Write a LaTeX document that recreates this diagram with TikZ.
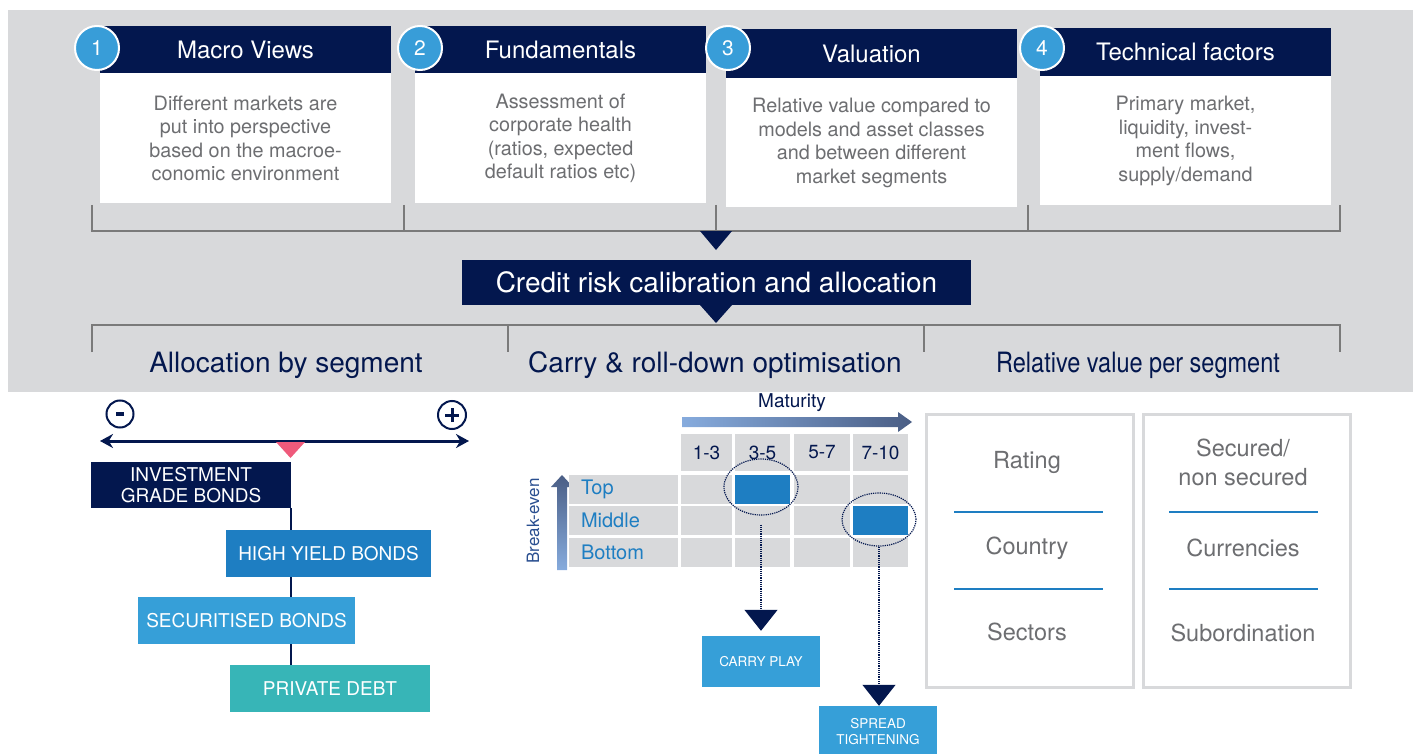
\documentclass[tikz,border=0pt]{standalone}
\usepackage{fontspec}
\setmainfont{TeX Gyre Heros}
\usetikzlibrary{arrows.meta,shapes.geometric,backgrounds}

\definecolor{navy}{HTML}{03174E}
\definecolor{panel}{HTML}{D8D9DB}
\definecolor{numblue}{HTML}{389DD8}
\definecolor{hyblue}{HTML}{1E7EC2}
\definecolor{secblue}{HTML}{369FD8}
\definecolor{teal}{HTML}{37B5B7}
\definecolor{txtgrey}{HTML}{6D6E71}
\definecolor{rulegrey}{HTML}{7A7A7A}
\definecolor{pink}{HTML}{EF5A7B}
\definecolor{lightarr}{HTML}{86ABDD}
\definecolor{darkarr}{HTML}{4A5E85}
\definecolor{beblue}{HTML}{2A4F90}

\tikzset{
  head/.style={fill=navy,text=white,minimum width=291,minimum height=47,inner sep=0,
    font=\fontsize{24}{28}\selectfont},
  body/.style={fill=white,text=txtgrey,minimum width=291,minimum height=130,inner sep=0,
    align=center,font=\fontsize{19.8}{23.5}\selectfont},
  num/.style={circle,fill=numblue,draw=white,line width=2,text=white,minimum size=44,
    inner sep=0,font=\fontsize{21}{21}\selectfont},
  seg/.style={text=navy,inner sep=0,font=\fontsize{28}{30}\selectfont},
  bond/.style={text=white,minimum height=47,inner sep=0,align=center,
    font=\fontsize{19}{21.5}\selectfont},
  cell/.style={fill=panel,minimum height=29,inner sep=0},
  tag/.style={fill=secblue,text=white,minimum width=118,minimum height=51,inner sep=0,
    align=center,font=\fontsize{13.5}{16}\selectfont},
  facet/.style={text=txtgrey,align=center,inner sep=0,font=\fontsize{23.5}{28.5}\selectfont},
  rvbox/.style={draw=panel,line width=3,fill=white,minimum width=207,minimum height=273,inner sep=0},
  ring/.style={ellipse,draw=navy,densely dotted,line width=1.2,inner sep=0},
  drop/.style={draw=navy,densely dotted,line width=1.2,-{Triangle[width=33pt,length=21pt]}}
}

\begin{document}
\begin{tikzpicture}[x=1pt,y=-1pt]
\useasboundingbox (0,0) rectangle (1413,754);
\clip (0,0) rectangle (1413,754);

% Grey panel
\fill[panel] (8,10) rectangle (1413,392);

% Step 1
\node[head] (h1) at (245.5,49.5) {Macro Views};
\node[body,anchor=north] (b1) at (h1.south) {Different markets are\\put into perspective\\based on the macroe-\\conomic environment};
\node[num] (n1) at (97,48) {1};

% Step 2
\node[head] (h2) at (560.5,49.5) {Fundamentals};
\node[body,anchor=north] (b2) at (h2.south) {Assessment of\\corporate health\\(ratios, expected\\default ratios etc)};
\node[num] (n2) at (420,48) {2};

% Step 3
\node[head,minimum height=49] (h3) at (871.5,53.5) {Valuation};
\node[body,anchor=north,minimum height=129] (b3) at (h3.south) {Relative value compared to\\models and asset classes\\and between different\\market segments};
\node[num] (n3) at (728,48) {3};

% Step 4
\node[head,minimum height=48] (h4) at (1185.5,52) {Technical factors};
\node[body,anchor=north,minimum height=129] (b4) at (h4.south) {Primary market,\\liquidity, invest-\\ment flows,\\supply/demand};
\node[num] (n4) at (1042,48) {4};

% Upper bracket
\draw[rulegrey,line width=1.5] (92,205) -- (92,231) -- (1340,231) -- (1340,205);
\foreach \x in {404,716,1028}
  \draw[rulegrey,line width=1.5] (\x,205) -- (\x,231);
\fill[navy] (700,231) -- (732,231) -- (716,250) -- cycle;

% Calibration
\node[fill=navy,text=white,minimum width=509,minimum height=45,inner sep=0,
  font=\fontsize{28}{30}\selectfont] (calib) at (716.5,282.5) {Credit risk calibration and allocation};
\fill[navy] (700,305) -- (732,305) -- (716,323) -- cycle;

% Lower bracket
\draw[rulegrey,line width=1.5] (92,352) -- (92,325) -- (1340,325) -- (1340,352);
\foreach \x in {508,924}
  \draw[rulegrey,line width=1.5] (\x,325) -- (\x,352);

% Three segments
\node[seg] (s1) at (286,365) {Allocation by segment};
\node[seg] (s2) at (715,365) {Carry \& roll-down optimisation};
\node[seg] (s3) at (1138,365) {\scalebox{0.84}[1]{Relative value per segment}};

% Allocation scale
\coordinate (lo) at (100,441);
\coordinate (hi) at (469,441);
\draw[navy,line width=3,{Stealth[length=13pt,width=14pt]}-{Stealth[length=13pt,width=14pt]}] (lo) -- (hi);
\node[circle,draw=navy,line width=2,minimum size=27,inner sep=0] (minus) at (120,414) {};
\fill[navy] ([xshift=-4,yshift=-2]minus.center) rectangle ([xshift=4,yshift=2]minus.center);
\node[circle,draw=navy,line width=2,minimum size=28,inner sep=0] (plus) at (452,415) {};
\draw[navy,line width=3] ([xshift=-7]plus.center) -- ([xshift=7]plus.center)
  ([yshift=-7]plus.center) -- ([yshift=7]plus.center);
\fill[pink] (276,442) -- (305,442) -- (290.5,458) -- cycle;

% Bond segments
\node[bond,fill=navy,minimum width=200,minimum height=46] (ig) at (191,485) {INVESTMENT\\GRADE BONDS};
\node[bond,fill=hyblue,minimum width=205] (hy) at (328.5,553.5) {HIGH YIELD BONDS};
\node[bond,fill=secblue,minimum width=217] (sec) at (246.5,620.5) {SECURITISED BONDS};
\node[bond,fill=teal,minimum width=200] (pd) at (330,688.5) {PRIVATE DEBT};
\begin{scope}[on background layer]
  \draw[navy,line width=2] ([xshift=-0.5]ig.south east) -- ([xshift=-0.5]ig.south east |- pd.north);
\end{scope}

% Maturity axis
\node[text=navy,inner sep=0,font=\fontsize{19}{19}\selectfont] (mat) at (792,403) {Maturity};
\shade[left color=lightarr,right color=darkarr]
  (682,417) -- (898,417) -- (898,412) -- (912,422) -- (898,432) -- (898,427) -- (682,427) -- cycle;

% Break-even axis
\shade[top color=darkarr,bottom color=lightarr]
  (557,570) -- (557,487) -- (551,487) -- (562,475) -- (573,487) -- (567,487) -- (567,570) -- cycle;
\node[text=beblue,rotate=90,inner sep=0,font=\fontsize{17}{17}\selectfont] (be) at (533,521) {Break-even};

% Grid
\foreach \c/\w/\lab in {706.5/51/1-3, 762.5/55/3-5, 822/56/5-7, 880.5/55/7-10} {
  \node[cell,minimum width=\w,minimum height=37,text=navy,font=\fontsize{19}{19}\selectfont] at (\c,452.5) {\lab};
  \foreach \r in {489,520.5,552.5}
    \node[cell,minimum width=\w] at (\c,\r) {};
}
\foreach \r/\lab in {489/Top,520.5/Middle,552.5/Bottom}
  \node[cell,minimum width=109,text=hyblue,text width=85,align=left,
    font=\fontsize{20}{20}\selectfont] at (623.5,\r) {\lab};
\fill[hyblue] (735,474.5) rectangle (790,503.5);
\fill[hyblue] (853,506) rectangle (908,535);

% Highlights
\node[ring,minimum width=74,minimum height=56] (e1) at (761,487) {};
\node[ring,minimum width=74,minimum height=53] (e2) at (879,519.5) {};
\node[tag] (carry) at (761,661.5) {CARRY PLAY};
\node[tag] (spread) at (878,731.5) {SPREAD\\TIGHTENING};
\draw[drop,shorten <=9pt,shorten >=5pt] (e1) -- (carry);
\draw[drop,shorten >=0pt] (e2.south) -- (e2.south |- spread.north);

% Relative value criteria
\node[rvbox] (rv1) at (1030,551) {};
\node[facet] (rating) at (1027,462) {Rating};
\node[facet] (country) at (1027,548) {Country};
\node[facet] (sectors) at (1027,632) {Sectors};
\draw[hyblue,line width=2.5] (954,512) -- (1103,512) (954,589) -- (1103,589);

\node[rvbox] (rv2) at (1246.5,551) {};
\node[facet] (secured) at (1243,462.5) {Secured/\\non secured};
\node[facet] (curr) at (1243,548) {Currencies};
\node[facet] (subord) at (1243,633) {Subordination};
\draw[hyblue,line width=2.5] (1169,512) -- (1318,512) (1169,589) -- (1318,589);
\end{tikzpicture}
\end{document}
